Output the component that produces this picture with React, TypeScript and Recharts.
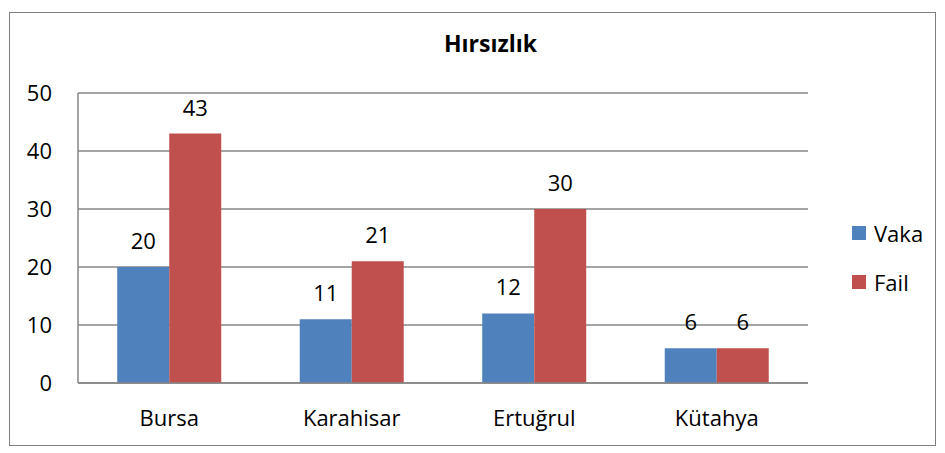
import { BarChart, Bar, XAxis, YAxis, CartesianGrid, LabelList } from "recharts"

const cities = ["Bursa", "Karahisar", "Ertuğrul", "Kütahya"]
const vaka = [20, 11, 12, 6]
const fail = [43, 21, 30, 6]
const yTicks = [0, 10, 20, 30, 40, 50]

const BLUE = "#4F81BD"
const RED = "#C0504D"
const GRID = "#868686"
const FONT = "'Open Sans', Lato, sans-serif"

const rows = cities.map((city, i) => ({ city, vaka: vaka[i], fail: fail[i] }))

const legendItems = [
  { name: "Vaka", color: BLUE },
  { name: "Fail", color: RED },
]

export default function App() {
  return (
    <div style={{ position: "fixed", left: 0, top: 0, width: 945, height: 453, background: "#fff", overflow: "hidden" }}>
      <div
        style={{
          position: "absolute",
          left: 0,
          width: 945,
          top: 27,
          textAlign: "center",
          paddingLeft: 18,
          fontFamily: FONT,
          fontWeight: 700,
          fontSize: 23,
          color: "#000",
        }}
      >
        Hırsızlık
      </div>
      <div style={{ position: "absolute", left: 0, top: 0 }}>
        <BarChart
          width={945}
          height={453}
          data={rows}
          margin={{ top: 93, right: 137, bottom: 0, left: 0 }}
          barCategoryGap="21.5%"
          barGap={0}
        >
          <CartesianGrid vertical={false} stroke={GRID} strokeWidth={1.5} />
          <XAxis
            dataKey="city"
            height={70}
            tickLine={false}
            axisLine={{ stroke: GRID, strokeWidth: 1.5 }}
            tickMargin={21}
            tick={{ fontFamily: FONT, fontSize: 22, fill: "#000" }}
          />
          <YAxis
            width={78}
            domain={[0, 50]}
            ticks={yTicks}
            tickLine={false}
            axisLine={{ stroke: GRID, strokeWidth: 1.5 }}
            tickMargin={20}
            tick={{ fontFamily: FONT, fontSize: 22, fill: "#000" }}
          />
          <Bar dataKey="vaka" name="Vaka" fill={BLUE} isAnimationActive={false}>
            <LabelList dataKey="vaka" position="top" offset={18} style={{ fontFamily: FONT, fontSize: 22, fill: "#000" }} />
          </Bar>
          <Bar dataKey="fail" name="Fail" fill={RED} isAnimationActive={false}>
            <LabelList dataKey="fail" position="top" offset={18} style={{ fontFamily: FONT, fontSize: 22, fill: "#000" }} />
          </Bar>
        </BarChart>
      </div>
      <div style={{ position: "absolute", left: 852, top: 208, fontFamily: FONT, fontSize: 22, color: "#000" }}>
        {legendItems.map((it) => (
          <div key={it.name} style={{ display: "flex", alignItems: "center", height: 49 }}>
            <span style={{ width: 14, height: 14, background: it.color, marginRight: 8, display: "inline-block" }} />
            {it.name}
          </div>
        ))}
      </div>
      <div
        style={{
          position: "absolute",
          left: 9,
          top: 12,
          width: 925,
          height: 432,
          border: "1.5px solid #7f7f7f",
          pointerEvents: "none",
        }}
      />
    </div>
  )
}
